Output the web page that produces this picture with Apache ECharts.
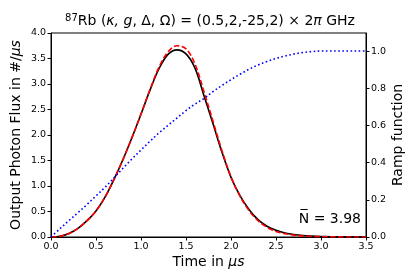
<!DOCTYPE html>
<html>
<head>
<meta charset="utf-8">
<script src="https://cdn.jsdelivr.net/npm/echarts@6/dist/echarts.min.js"></script>
<style>
html,body{margin:0;padding:0;background:#fff;}
#c{width:407px;height:271px;}
</style>
</head>
<body>
<div id="c"></div>
<script>
var times = [0.0,0.1,0.2,0.3,0.4,0.5,0.6,0.7,0.8,0.9,1.0,1.1,1.2,1.3,1.4,1.5,1.6,1.7,1.8,1.9,2.0,2.1,2.2,2.3,2.4,2.5,2.6,2.7,2.8,2.9,3.0,3.1,3.2,3.3,3.4,3.5];
var fluxFull = [0.0,0.015,0.07,0.17,0.32,0.51,0.78,1.13,1.52,1.95,2.41,2.88,3.30,3.58,3.67,3.59,3.31,2.77,2.22,1.66,1.17,0.81,0.54,0.34,0.21,0.13,0.08,0.048,0.028,0.017,0.010,0.006,0.004,0.003,0.002,0.001];
var fluxApprox = [0.0,0.015,0.07,0.17,0.32,0.51,0.78,1.13,1.52,1.95,2.41,2.89,3.33,3.63,3.75,3.69,3.39,2.85,2.27,1.69,1.18,0.80,0.52,0.32,0.19,0.11,0.065,0.036,0.020,0.011,0.006,0.003,0.002,0.001,0.001,0.0];
var ramp = [0.0,0.045,0.088,0.131,0.175,0.221,0.267,0.318,0.37,0.42,0.468,0.515,0.56,0.60,0.64,0.68,0.715,0.745,0.782,0.815,0.846,0.875,0.902,0.925,0.944,0.96,0.973,0.984,0.992,0.997,1.0,1.0,1.0,1.0,1.0,1.0];
var xTicks = [0,0.5,1.0,1.5,2.0,2.5,3.0,3.5];
var rightTicks = [0,0.2,0.4,0.6,0.8,1.0];

function zip(xs, ys){ return xs.map(function(x,i){ return [x, ys[i]]; }); }
var FONT = 'DejaVu Sans';
var nameRich = {
  n:{fontFamily:FONT,fontSize:14,color:'#000'},
  i:{fontFamily:FONT,fontSize:14,fontStyle:'italic',color:'#000'}
};
var chart = echarts.init(document.getElementById('c'), null, {renderer:'canvas'});
chart.setOption({
  animation:false,
  backgroundColor:'#fff',
  title:{
    text:'{sup|87}{n|Rb (}{i|κ, g}{n|, Δ, Ω) = (0.5,2,-25,2) × 2}{i|π}{n| GHz}',
    left:205, top:8, textAlign:'center',
    textStyle:{
      fontWeight:'normal',
      rich:{
        n:{fontFamily:FONT,fontSize:14,fontWeight:'normal',color:'#000'},
        i:{fontFamily:FONT,fontSize:14,fontStyle:'italic',fontWeight:'normal',color:'#000'},
        sup:{fontFamily:FONT,fontSize:10,fontWeight:'normal',color:'#000',verticalAlign:'top',padding:[0,0,6,0]}
      }
    }
  },
  grid:{left:51, top:33, width:315, height:204, show:true, borderColor:'#000', borderWidth:1, backgroundColor:'transparent', outerBoundsMode:'none', containLabel:false},
  xAxis:{
    type:'value', min:0, max:3.5, interval:0.5,
    name:'{n|Time in }{i|µs}', nameLocation:'middle', nameGap:18, nameMoveOverlap:false,
    nameTextStyle:{fontFamily:FONT,fontSize:14,color:'#000',rich:nameRich},
    axisLine:{lineStyle:{color:'#000',width:1}},
    axisTick:{length:3.5,lineStyle:{color:'#000'}},
    axisLabel:{fontFamily:FONT,fontSize:9.5,color:'#000',margin:5,formatter:function(v){return v.toFixed(1);}},
    splitLine:{show:false}
  },
  yAxis:[{
    type:'value', min:0, max:4, interval:0.5, position:'left',
    name:'{n|Output Photon Flux in #/}{i|µs}', nameLocation:'middle', nameGap:28, nameRotate:90, nameMoveOverlap:false,
    nameTextStyle:{fontFamily:FONT,fontSize:14,color:'#000',rich:nameRich},
    axisLine:{show:true,lineStyle:{color:'#000',width:1}},
    axisTick:{show:true,length:3.5,lineStyle:{color:'#000'}},
    axisLabel:{fontFamily:FONT,fontSize:9.5,color:'#000',margin:5,formatter:function(v){return v.toFixed(1);}},
    splitLine:{show:false}
  },{
    type:'value', min:0, max:1.097, position:'right',
    name:'Ramp function', nameLocation:'middle', nameGap:25, nameRotate:90, nameMoveOverlap:false,
    nameTextStyle:{fontFamily:FONT,fontSize:14,color:'#000'},
    axisLine:{show:true,lineStyle:{color:'#000',width:1}},
    axisTick:{show:true,length:3.5,lineStyle:{color:'#000'},customValues:rightTicks},
    axisLabel:{fontFamily:FONT,fontSize:9.5,color:'#000',margin:5,customValues:rightTicks,formatter:function(v){return v.toFixed(1);}},
    splitLine:{show:false}
  }],
  graphic:[{
    type:'text', right:46, top:212,
    style:{text:'N\u0305 = 3.98', font:'14px "DejaVu Sans"', fill:'#000'}
  }],
  series:[{
    type:'line', data:zip(times,fluxFull), yAxisIndex:0, showSymbol:false, smooth:0.35,
    lineStyle:{color:'#000',width:1.6}, z:2
  },{
    type:'line', data:zip(times,fluxApprox), yAxisIndex:0, showSymbol:false, smooth:0.35,
    lineStyle:{color:'#ff0000',width:1.6,type:[5.5,2.4]}, z:3
  },{
    type:'line', data:zip(times,ramp), yAxisIndex:1, showSymbol:false, smooth:0.35,
    lineStyle:{color:'#0000ff',width:1.6,type:[1.6,2.5]}, z:4
  }]
});
</script>
</body>
</html>
